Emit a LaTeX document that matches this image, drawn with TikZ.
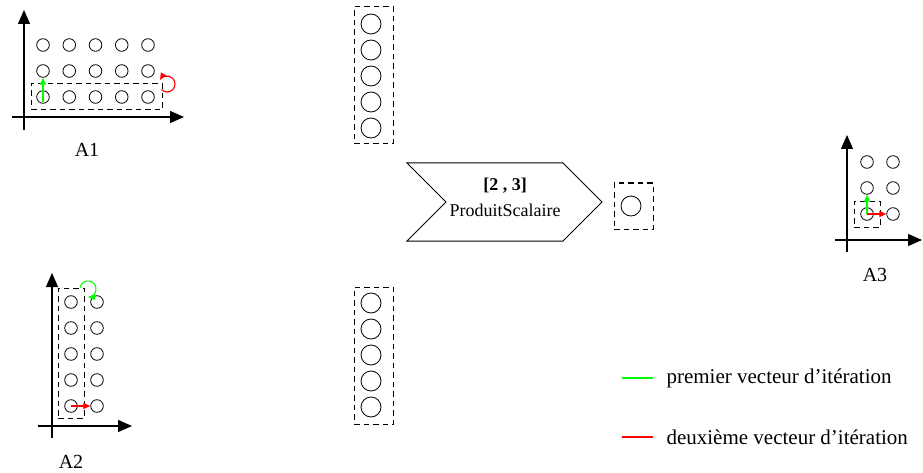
\documentclass[tikz,border=0pt]{standalone}
\usepackage{fontspec}
\setmainfont{Liberation Serif}
\usetikzlibrary{arrows.meta,shapes.symbols,positioning}
\tikzset{>={Triangle[length=7pt,width=6pt]}}
\tikzset{elem node/.style={circle,draw,line width=0.8pt,minimum size=12.6pt,inner sep=0pt},
    big node/.style={circle,draw,line width=0.8pt,minimum size=20pt,inner sep=0pt},
    box node/.style={draw,line width=1pt,dash pattern=on 5.5pt off 4pt,inner sep=0pt},
    axis line/.style={line width=1.3pt,-{Triangle[length=14pt,width=12pt]}},
    it arrow/.style={line width=1.1pt,->},
    lbl node/.style={font=\fontsize{20}{22}\selectfont},
    leg node/.style={font=\fontsize{21}{23}\selectfont,anchor=west},
            }
\colorlet{itgreen}{green}
\colorlet{itred}{red}

\begin{document}
\begin{tikzpicture}[x=1pt,y=1pt]
    \useasboundingbox (0,0) rectangle (923,472);

    % A1
    \coordinate (a1x0) at (12,355);
    \coordinate (a1x1) at (184,355);
    \coordinate (a1y0) at (24,342);
    \coordinate (a1y1) at (24,462);
    \draw[axis line] (a1x0) -- (a1x1);
    \draw[axis line] (a1y0) -- (a1y1);
    \foreach \r in {1,2,3} {
        \foreach \c in {1,...,5} {
            \node[elem node] (a1-\r-\c) at ({43+26.25*(\c-1)},{375+26*(\r-1)}) {};
        }
    }
    \node[box node,minimum width=131pt,minimum height=26pt] (a1box) at (96.5,375) {};
    \coordinate (a1turn) at (167,388);
    \draw[it arrow,itgreen] ([yshift=-5pt]a1-1-1.center) -- (a1-2-1.south);
    \draw[it arrow,itred] ([shift={(-135:8)}]a1turn) arc[start angle=-135,end angle=150,radius=8];
    \node[lbl node] (a1lbl) at (87,322) {A1};

    % A2
    \coordinate (a2x0) at (38,46);
    \coordinate (a2x1) at (132,46);
    \coordinate (a2y0) at (52,34);
    \coordinate (a2y1) at (52,199);
    \draw[axis line] (a2x0) -- (a2x1);
    \draw[axis line] (a2y0) -- (a2y1);
    \foreach \r in {1,...,5} {
        \foreach \c in {1,2} {
            \node[elem node] (a2-\r-\c) at ({71+26*(\c-1)},{66+26*(\r-1)}) {};
        }
    }
    \node[box node,minimum width=26pt,minimum height=130pt] (a2box) at (71,119) {};
    \coordinate (a2turn) at (88,183);
    \draw[it arrow,itgreen] ([shift={(170:8)}]a2turn) arc[start angle=170,end angle=-90,radius=8];
    \draw[it arrow,itred] (a2-1-1.center) -- (a2-1-2.west);
    \node[lbl node] (a2lbl) at (71,10) {A2};

    % vecteurs
    \node[box node,minimum width=39pt,minimum height=137pt] (v1box) at (373.5,396.5) {};
    \node[box node,minimum width=39pt,minimum height=137pt] (v2box) at (373.5,116.5) {};
    \foreach \i in {1,...,5} {
        \node[big node] (v1-\i) at (371,{448-26*(\i-1)}) {};
        \node[big node] (v2-\i) at (371,{169-26*(\i-1)}) {};
    }

    \node[signal,signal from=west,signal to=east,signal pointer angle=90,draw,line width=1pt,
        minimum width=195pt,minimum height=78pt] (ps) at (504.5,270) {};
    \node[align=center,font=\fontsize{18}{26}\selectfont] (pstxt) at (505,275) {\textbf{[2 , 3]}\\ProduitScalaire};

    \node[box node,minimum width=39pt,minimum height=46pt] (rbox) at (633.5,266) {};
    \node[big node] (r) at (631,266) {};

    % A3
    \coordinate (a3x0) at (835,232);
    \coordinate (a3x1) at (922,232);
    \coordinate (a3y0) at (847,220);
    \coordinate (a3y1) at (847,337);
    \draw[axis line] (a3x0) -- (a3x1);
    \draw[axis line] (a3y0) -- (a3y1);
    \foreach \r in {1,2,3} {
        \foreach \c in {1,2} {
            \node[elem node] (a3-\r-\c) at ({867+26*(\c-1)},{258+26*(\r-1)}) {};
        }
    }
    \node[box node,minimum width=26pt,minimum height=26pt] (a3box) at (867,258) {};
    \draw[it arrow,itgreen] (a3-1-1.center) -- (a3-2-1.south);
    \draw[it arrow,itred] (a3-1-1.center) -- (a3-1-2.west);
    \node[lbl node] (a3lbl) at (875,197) {A3};

    % legende
    \coordinate (lg0) at (622,94);
    \coordinate (lg1) at (653,94);
    \coordinate (lr0) at (622,35);
    \coordinate (lr1) at (653,35);
    \draw[itgreen,line width=1.1pt] (lg0) -- (lg1);
    \draw[itred,line width=1.1pt] (lr0) -- (lr1);
    \node[leg node] (lgtxt) at (663,94) {premier vecteur d’itération};
    \node[leg node] (lrtxt) at (663,35) {deuxième vecteur d’itération};

\end{tikzpicture}
\end{document}
